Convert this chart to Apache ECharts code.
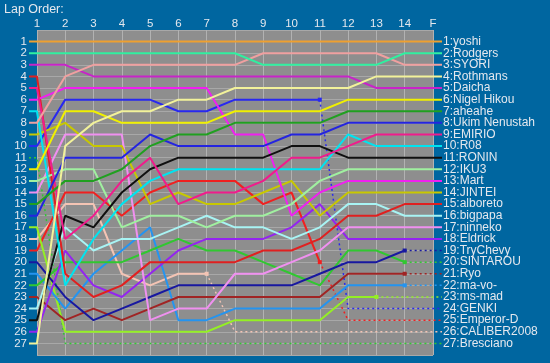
<!DOCTYPE html>
<html><head><meta charset="utf-8">
<script src="https://cdn.jsdelivr.net/npm/echarts@6/dist/echarts.min.js"></script>
<style>html,body{margin:0;padding:0;background:#0066a0;}#c{width:550px;height:363px;}</style>
</head><body><div id="c"></div>
<script>
// ---- data ----
const lapLabels = ['1','2','3','4','5','6','7','8','9','10','11','12','13','14','F'];
const names = ['yoshi','Rodgers','SYORI','Rothmans','Daicha','Nigel Hikou','aheahe','Ukim Nenustah','EMIRIO','R08',
  'RONIN','IKU3','Mart','JINTEI','alboreto','bigpapa','ninneko','Eldrick','TryChevy','SINTAROU',
  'Ryo','ma-vo-','ms-mad','GENKI','Emperor-D','CALIBER2008','Bresciano'];
// positions at lap 1..14 and F
const pos_yoshi     = [1,1,1,1,1,1,1,1,1,1,1,1,1,1,1];
const pos_Rodgers   = [2,2,2,2,2,2,2,2,3,3,3,3,3,2,2];
const pos_SYORI     = [8,4,3,3,3,3,3,3,2,2,2,2,2,3,3];
const pos_Rothmans  = [27,10,8,7,7,6,6,5,5,5,5,5,4,4,4];
const pos_Daicha    = [3,3,4,4,4,4,4,4,4,4,4,4,5,5,5];
const pos_Nigel     = [12,7,7,8,8,8,8,7,7,7,7,6,6,6,6];
const pos_aheahe    = [15,13,13,12,10,9,9,8,8,8,8,7,7,7,7];
const pos_Ukim      = [16,11,11,11,9,10,10,10,10,9,9,8,8,8,8];
const pos_EMIRIO    = [5,18,16,13,11,15,14,14,13,11,11,10,9,9,9];
const pos_R08       = [7,22,18,15,13,12,12,12,12,12,12,9,10,10,10];
const pos_RONIN     = [25,16,17,14,12,11,11,11,11,10,10,11,11,11,11];
const pos_IKU3      = [13,12,12,17,16,16,17,16,16,15,13,12,12,12,12];
const pos_Mart      = [6,5,5,5,5,5,5,9,9,16,14,13,13,13,13];
const pos_JINTEI    = [9,8,10,10,15,14,15,15,14,13,16,14,14,14,14];
const pos_alboreto  = [4,21,23,22,20,20,20,20,19,19,18,16,16,15,15];
const pos_bigpapa   = [24,17,19,18,18,17,16,17,17,18,17,15,15,16,16];
const pos_ninneko   = [14,9,9,9,25,24,24,21,21,20,19,17,17,17,17];
const pos_Eldrick   = [26,19,22,23,21,19,18,18,18,17,15,18,18,18,18];
const pos_TryChevy  = [20,23,25,24,23,22,22,22,22,22,21,20,20,19,19];
const pos_SINTAROU  = [22,20,20,20,19,18,19,19,20,21,22,19,19,20,20];
const pos_Ryo       = [23,25,24,25,24,23,23,23,23,23,23,21,21,21,21];
const pos_mavo      = [21,24,21,19,17,25,25,24,24,24,24,22,22,22,22];
const pos_msmad     = [17,26,26,26,26,26,26,25,25,25,25,23,23,23,23];
const pos_GENKI     = [10,6,6,6,6,7,7,6,6,6,6,24,24,24,24];
const pos_EmperorD  = [19,14,14,16,14,13,13,13,15,14,20,25,25,25,25];
const pos_CALIBER   = [18,15,15,21,22,21,21,26,26,26,26,26,26,26,26];
const pos_Bresciano = [11,27,27,27,27,27,27,27,27,27,27,27,27,27,27];
// number of laps drawn as a solid line (15 = finished)
const solidLaps = [15,15,15,15,15,15,15,15,15,15,15,15,15,15,15,15,15,15,14,14,14,14,13,11,11,7,0];

const allPos = [pos_yoshi,pos_Rodgers,pos_SYORI,pos_Rothmans,pos_Daicha,pos_Nigel,pos_aheahe,pos_Ukim,pos_EMIRIO,pos_R08,
  pos_RONIN,pos_IKU3,pos_Mart,pos_JINTEI,pos_alboreto,pos_bigpapa,pos_ninneko,pos_Eldrick,pos_TryChevy,pos_SINTAROU,
  pos_Ryo,pos_mavo,pos_msmad,pos_GENKI,pos_EmperorD,pos_CALIBER,pos_Bresciano];

// ---- styles ----
const colors = ['#eea030','#30f0a0','#f0a0a0','#f2f29a','#c824c8','#f0f000','#20a020','#2424e0','#f01c8c','#00e4f0',
  '#101010','#a0f0a0','#f020f0','#c8c800','#e02020','#a8f4f4','#f090f0','#9424f0','#1818a0','#30c830',
  '#a02424','#2494f0','#94f024','#2828f0','#f02020','#f4c4b4','#30c830'];
const X0 = 0.72, X1 = 15.32;

const series = [];
allPos.forEach((p, i) => {
  const c = colors[i];
  const n = solidLaps[i];
  if (n > 0) {
    const d = [[X0, p[0]]];
    for (let k = 1; k <= n; k++) d.push([k, p[k-1]]);
    if (n === 15) d.push([X1, p[14]]);
    else d[d.length-1] = {value: d[d.length-1], symbol: 'rect', symbolSize: 4};
    series.push({type:'line', xAxisIndex:0, yAxisIndex:0, data:d, symbol:'none', showSymbol:true,
      lineStyle:{color:c, width:2}, itemStyle:{color:c}, silent:true, z: 30 - i});
  }
  if (n < 15) {
    const d = [];
    if (n === 0) d.push([X0, p[0]]);
    for (let k = Math.max(n,1); k <= 15; k++) d.push([k, p[k-1]]);
    d.push([X1, p[14]]);
    series.push({type:'line', xAxisIndex:0, yAxisIndex:0, data:d, symbol:'none',
      lineStyle:{color:c, width:1.5, type:[2,3]}, silent:true, z: 30 - i});
  }
});

const finalLabel = {};
allPos.forEach((p, i) => { finalLabel[p[14]] = p[14] + ':' + names[i]; });

const font = 'Liberation Sans, Arial, sans-serif';
const txt = '#e4e8ee';
const chart = echarts.init(document.getElementById('c'), null, {renderer:'canvas'});
chart.setOption({
  animation:false,
  backgroundColor:'#0066a0',
  graphic:[{type:'text', left:4, top:3, style:{text:'Lap Order:', fill:txt, font:'12.5px ' + font}}],
  grid:[
    {left:29, right:108, top:30, bottom:8, show:false},
    {left:37, right:117, top:30, bottom:8, show:true, backgroundColor:'#8e8e8e', borderWidth:0}
  ],
  xAxis:[
    {gridIndex:0, type:'value', min:X0, max:X1, show:false},
    {gridIndex:1, type:'value', min:1, max:15, interval:1, position:'top',
      axisLine:{show:false}, axisTick:{show:false},
      axisLabel:{color:txt, fontSize:11.5, fontFamily:font, margin:0, formatter:v => lapLabels[v-1] || ''},
      splitLine:{show:true, lineStyle:{color:'#b2b2b2', width:1}}}
  ],
  yAxis:[
    {gridIndex:0, type:'value', min:0, max:28, inverse:true, show:false},
    {gridIndex:1, type:'value', min:0, max:28, interval:1, inverse:true,
      axisLine:{show:false}, axisTick:{show:false},
      axisLabel:{color:txt, fontSize:11.5, fontFamily:font, margin:10, formatter:v => (v>=1 && v<=27) ? String(v) : ''},
      splitLine:{show:true, lineStyle:{color:'#a8a8a8', width:1}}},
    {gridIndex:0, type:'value', min:0, max:28, interval:1, inverse:true, position:'right',
      axisLine:{show:false}, axisTick:{show:false}, splitLine:{show:false},
      axisLabel:{color:txt, fontSize:12, fontFamily:font, margin:1, align:'left', formatter:v => finalLabel[v] || ''}}
  ],
  series: series
});
</script></body></html>
